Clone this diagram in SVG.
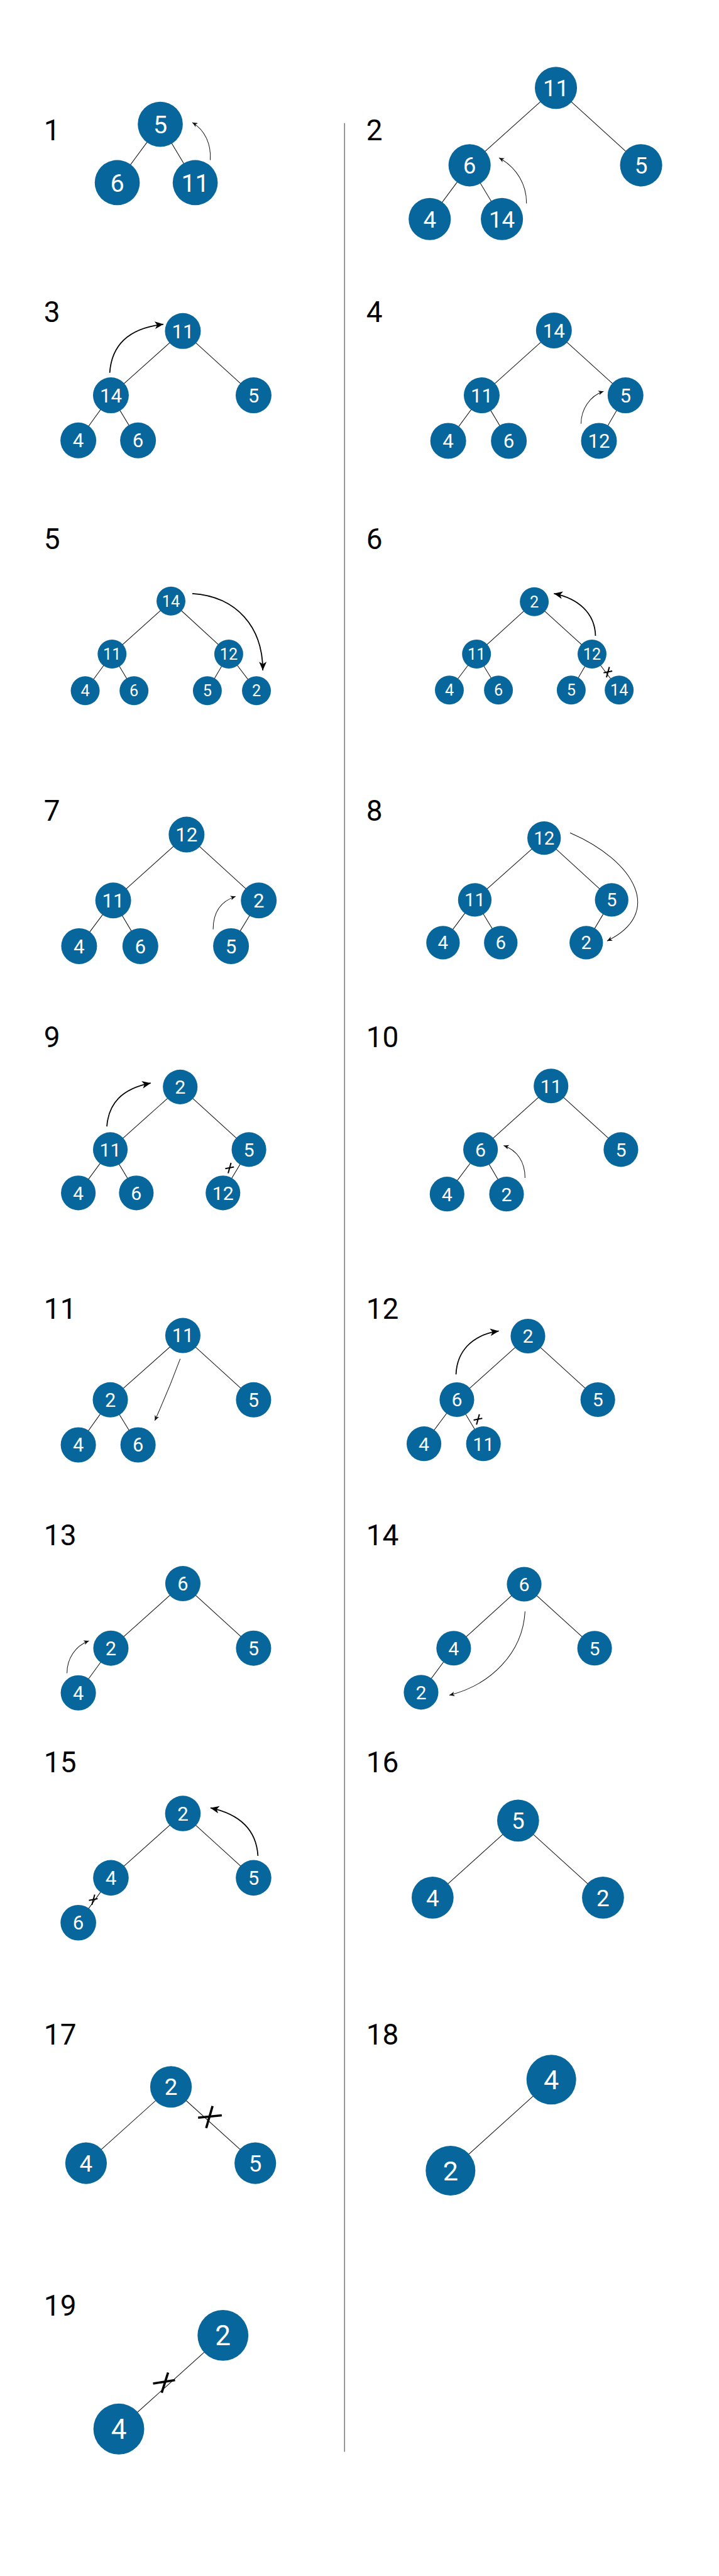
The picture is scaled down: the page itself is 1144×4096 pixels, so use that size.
<svg xmlns="http://www.w3.org/2000/svg" width="1144" height="4096" viewBox="0 0 1144 4096">
<style>
.n{fill:#07669b}
.t{fill:#fff;font-family:Roboto,"Liberation Sans",sans-serif;text-anchor:middle}
.e{stroke:#1a1a1a;stroke-width:1.2}
.lbl{fill:#000;font-family:Roboto,"Liberation Sans",sans-serif;font-size:50px}
.at{fill:none;stroke:#111;stroke-width:1.1;marker-end:url(#ah)}
.ab{fill:none;stroke:#000;stroke-width:1.9;marker-end:url(#ahb)}
.x{stroke:#000;stroke-width:2.2;stroke-linecap:butt}
.xb{stroke:#000;stroke-width:4;stroke-linecap:butt}
</style>
<defs>
<marker id="ah" markerUnits="userSpaceOnUse" markerWidth="10" markerHeight="8" refX="9" refY="4" orient="auto"><path d="M0,0 L9,4 L0,8 L2.5,4 z" fill="#111"/></marker>
<marker id="ahb" markerUnits="userSpaceOnUse" markerWidth="16" markerHeight="14" refX="15" refY="6.5" orient="auto"><path d="M0,0 L15,6.5 L0,13 L4,6.5 z" fill="#000"/></marker>
</defs>
<rect width="1144" height="4096" fill="#fff"/>
<g transform="scale(0.919)">
<line x1="596.5" y1="213" x2="596.5" y2="4242" stroke="#555" stroke-width="1.3"/>
<g id="labels">
<text class="lbl" x="76" y="243">1</text><text class="lbl" x="634" y="243">2</text>
<text class="lbl" x="76" y="557">3</text><text class="lbl" x="634" y="557">4</text>
<text class="lbl" x="76" y="950">5</text><text class="lbl" x="634" y="950">6</text>
<text class="lbl" x="76" y="1420">7</text><text class="lbl" x="634" y="1420">8</text>
<text class="lbl" x="76" y="1812">9</text><text class="lbl" x="634" y="1812">10</text>
<text class="lbl" x="76" y="2282">11</text><text class="lbl" x="634" y="2282">12</text>
<text class="lbl" x="76" y="2674">13</text><text class="lbl" x="634" y="2674">14</text>
<text class="lbl" x="76" y="3066">15</text><text class="lbl" x="634" y="3066">16</text>
<text class="lbl" x="76" y="3537">17</text><text class="lbl" x="634" y="3537">18</text>
<text class="lbl" x="76" y="4007">19</text>
</g>
<g id="connectors">
<!-- P1 -->
<line class="e" x1="277.5" y1="215" x2="203" y2="316"/><line class="e" x1="277.5" y1="215" x2="338" y2="316"/>
<path class="at" d="M364,277 C366,250 355,225 333,212"/>
<!-- P2 -->
<line class="e" x1="962.5" y1="152" x2="813" y2="286"/><line class="e" x1="962.5" y1="152" x2="1110" y2="286"/>
<line class="e" x1="813" y1="286" x2="744" y2="379"/><line class="e" x1="813" y1="286" x2="869" y2="379"/>
<path class="at" d="M911.5,352 C912,320 895,290 864,273"/>
<!-- P3 -->
<line class="e" x1="316.6" y1="572.7" x2="192" y2="684"/><line class="e" x1="316.6" y1="572.7" x2="439" y2="684"/>
<line class="e" x1="192" y1="684" x2="135.6" y2="762"/><line class="e" x1="192" y1="684" x2="239" y2="762"/>
<path class="ab" d="M190,645 C193,600 220,568 283,561"/>
<!-- P4 -->
<line class="e" x1="959" y1="571.7" x2="834" y2="684"/><line class="e" x1="959" y1="571.7" x2="1083" y2="684"/>
<line class="e" x1="834" y1="684" x2="776" y2="762.7"/><line class="e" x1="834" y1="684" x2="881" y2="762.7"/>
<line class="e" x1="1083" y1="684" x2="1037" y2="762.7"/>
<path class="at" d="M1006,733 C1006,710 1020,685 1045,677"/>
<!-- P5 -->
<line class="e" x1="296" y1="1040" x2="194" y2="1131.7"/><line class="e" x1="296" y1="1040" x2="396" y2="1131.7"/>
<line class="e" x1="194" y1="1131.7" x2="147.5" y2="1195"/><line class="e" x1="194" y1="1131.7" x2="232" y2="1195"/>
<line class="e" x1="396" y1="1131.7" x2="359" y2="1195"/><line class="e" x1="396" y1="1131.7" x2="444" y2="1195"/>
<path class="ab" d="M333,1027 C410,1032 455,1085 455,1160"/>
<!-- P6 -->
<line class="e" x1="925" y1="1041" x2="825" y2="1131.7"/><line class="e" x1="925" y1="1041" x2="1025" y2="1131.7"/>
<line class="e" x1="825" y1="1131.7" x2="778" y2="1194"/><line class="e" x1="825" y1="1131.7" x2="863" y2="1194"/>
<line class="e" x1="1025" y1="1131.7" x2="989" y2="1194"/><line class="e" x1="1025" y1="1131.7" x2="1072" y2="1194"/>
<path class="ab" d="M1031,1100 C1030,1060 1000,1035 959,1027"/>
<line class="x" x1="1055" y1="1154" x2="1050" y2="1172"/><line class="x" x1="1045" y1="1164" x2="1060" y2="1161"/>
<!-- P7 -->
<line class="e" x1="323" y1="1444" x2="196" y2="1558"/><line class="e" x1="323" y1="1444" x2="448" y2="1558"/>
<line class="e" x1="196" y1="1558" x2="137" y2="1637"/><line class="e" x1="196" y1="1558" x2="243" y2="1637"/>
<line class="e" x1="448" y1="1558" x2="400" y2="1637"/>
<path class="at" d="M369,1608 C369,1580 380,1560 408,1551"/>
<!-- P8 -->
<line class="e" x1="942" y1="1450" x2="822" y2="1557"/><line class="e" x1="942" y1="1450" x2="1059" y2="1557"/>
<line class="e" x1="822" y1="1557" x2="767" y2="1631"/><line class="e" x1="822" y1="1557" x2="867" y2="1631"/>
<line class="e" x1="1059" y1="1557" x2="1015" y2="1631"/>
<path class="at" d="M987,1441 C1100,1490 1150,1580 1051,1628"/>
<!-- P9 -->
<line class="e" x1="312" y1="1880.7" x2="191" y2="1989"/><line class="e" x1="312" y1="1880.7" x2="431" y2="1989"/>
<line class="e" x1="191" y1="1989" x2="135.6" y2="2064"/><line class="e" x1="191" y1="1989" x2="236" y2="2064"/>
<line class="e" x1="431" y1="1989" x2="386" y2="2064"/>
<path class="ab" d="M185,1949 C188,1910 210,1884 261,1874"/>
<line class="x" x1="400" y1="2012" x2="395" y2="2030"/><line class="x" x1="390" y1="2022" x2="405" y2="2019"/>
<!-- P10 -->
<line class="e" x1="954" y1="1879" x2="832" y2="1989"/><line class="e" x1="954" y1="1879" x2="1075" y2="1989"/>
<line class="e" x1="832" y1="1989" x2="774" y2="2066"/><line class="e" x1="832" y1="1989" x2="877" y2="2066"/>
<path class="at" d="M909,2038 C909,2010 895,1990 872,1982"/>
<!-- P11 -->
<line class="e" x1="316.6" y1="2310.7" x2="191" y2="2422"/><line class="e" x1="316.6" y1="2310.7" x2="439" y2="2422"/>
<line class="e" x1="191" y1="2422" x2="135.6" y2="2500"/><line class="e" x1="191" y1="2422" x2="239" y2="2500"/>
<path class="at" d="M312,2351 Q292,2405 268,2458"/>
<!-- P12 -->
<line class="e" x1="914" y1="2311.7" x2="791" y2="2421.7"/><line class="e" x1="914" y1="2311.7" x2="1035" y2="2421.7"/>
<line class="e" x1="791" y1="2421.7" x2="734" y2="2498"/><line class="e" x1="791" y1="2421.7" x2="837" y2="2498"/>
<path class="ab" d="M789.5,2378 C791,2340 815,2310 863.6,2303"/>
<line class="x" x1="830" y1="2447" x2="825" y2="2465"/><line class="x" x1="820" y1="2457" x2="835" y2="2454"/>
<!-- P13 -->
<line class="e" x1="316.6" y1="2740" x2="192" y2="2851.7"/><line class="e" x1="316.6" y1="2740" x2="439" y2="2851.7"/>
<line class="e" x1="192" y1="2851.7" x2="135.6" y2="2929"/>
<path class="at" d="M116,2895 C116,2870 130,2848 154,2839"/>
<!-- P14 -->
<line class="e" x1="907.5" y1="2741" x2="785.5" y2="2851.7"/><line class="e" x1="907.5" y1="2741" x2="1029.5" y2="2851.7"/>
<line class="e" x1="785.5" y1="2851.7" x2="729" y2="2928"/>
<path class="at" d="M909,2788 C905,2860 850,2915 778,2933"/>
<!-- P15 -->
<line class="e" x1="316.6" y1="3137.7" x2="192" y2="3249"/><line class="e" x1="316.6" y1="3137.7" x2="439" y2="3249"/>
<line class="e" x1="192" y1="3249" x2="135.6" y2="3326.7"/>
<path class="ab" d="M446.6,3211 C444,3170 420,3140 364.4,3128"/>
<line class="x" x1="164" y1="3278" x2="159" y2="3296"/><line class="x" x1="154" y1="3288" x2="169" y2="3285"/>
<!-- P16 -->
<line class="e" x1="897" y1="3150" x2="749" y2="3283.3"/><line class="e" x1="897" y1="3150" x2="1044" y2="3283.3"/>
<!-- P17 -->
<line class="e" x1="296" y1="3610.7" x2="149" y2="3742.7"/><line class="e" x1="296" y1="3610.7" x2="442" y2="3742.7"/>
<line class="xb" x1="368" y1="3644" x2="357" y2="3682"/><line class="xb" x1="343" y1="3664" x2="384" y2="3660"/>
<!-- P18 -->
<line class="e" x1="954.5" y1="3598.3" x2="780" y2="3755.7"/>
<!-- P19 -->
<line class="e" x1="386" y1="4040.7" x2="205.7" y2="4202.7"/>
<line class="xb" x1="291" y1="4105" x2="280" y2="4140"/><line class="xb" x1="265" y1="4124" x2="303" y2="4118"/>
</g>
<g id="nodes">
<g id="p1-5"><circle class="n" cx="277.5" cy="215" r="39"/><text class="t" x="277.5" y="230.5" font-size="43">5</text></g>
<g id="p1-6"><circle class="n" cx="203" cy="316" r="39"/><text class="t" x="203" y="331.5" font-size="43">6</text></g>
<g id="p1-11"><circle class="n" cx="338" cy="316" r="39"/><text class="t" x="338" y="331.5" font-size="43">11</text></g>
<g id="p2-11"><circle class="n" cx="962.5" cy="152" r="36.5"/><text class="t" x="962.5" y="166.4" font-size="40">11</text></g>
<g id="p2-6"><circle class="n" cx="813" cy="286" r="36.5"/><text class="t" x="813" y="300.4" font-size="40">6</text></g>
<g id="p2-5"><circle class="n" cx="1110" cy="286" r="36.5"/><text class="t" x="1110" y="300.4" font-size="40">5</text></g>
<g id="p2-4"><circle class="n" cx="744" cy="379" r="36.5"/><text class="t" x="744" y="393.4" font-size="40">4</text></g>
<g id="p2-14"><circle class="n" cx="869" cy="379" r="36.5"/><text class="t" x="869" y="393.4" font-size="40">14</text></g>
<g id="p3-11"><circle class="n" cx="316.6" cy="572.7" r="31"/><text class="t" x="316.6" y="584.9" font-size="34">11</text></g>
<g id="p3-14"><circle class="n" cx="192" cy="684" r="31"/><text class="t" x="192" y="696.2" font-size="34">14</text></g>
<g id="p3-5"><circle class="n" cx="439" cy="684" r="31"/><text class="t" x="439" y="696.2" font-size="34">5</text></g>
<g id="p3-4"><circle class="n" cx="135.6" cy="762" r="31"/><text class="t" x="135.6" y="774.2" font-size="34">4</text></g>
<g id="p3-6"><circle class="n" cx="239" cy="762" r="31"/><text class="t" x="239" y="774.2" font-size="34">6</text></g>
<g id="p4-14"><circle class="n" cx="959" cy="571.7" r="31"/><text class="t" x="959" y="583.9" font-size="34">14</text></g>
<g id="p4-11"><circle class="n" cx="834" cy="684" r="31"/><text class="t" x="834" y="696.2" font-size="34">11</text></g>
<g id="p4-5"><circle class="n" cx="1083" cy="684" r="31"/><text class="t" x="1083" y="696.2" font-size="34">5</text></g>
<g id="p4-4"><circle class="n" cx="776" cy="762.7" r="31"/><text class="t" x="776" y="774.9" font-size="34">4</text></g>
<g id="p4-6"><circle class="n" cx="881" cy="762.7" r="31"/><text class="t" x="881" y="774.9" font-size="34">6</text></g>
<g id="p4-12"><circle class="n" cx="1037" cy="762.7" r="31"/><text class="t" x="1037" y="774.9" font-size="34">12</text></g>
<g id="p5-14"><circle class="n" cx="296" cy="1040" r="25"/><text class="t" x="296" y="1049.9" font-size="27.5">14</text></g>
<g id="p5-11"><circle class="n" cx="194" cy="1131.7" r="25"/><text class="t" x="194" y="1141.6" font-size="27.5">11</text></g>
<g id="p5-12"><circle class="n" cx="396" cy="1131.7" r="25"/><text class="t" x="396" y="1141.6" font-size="27.5">12</text></g>
<g id="p5-4"><circle class="n" cx="147.5" cy="1195" r="25"/><text class="t" x="147.5" y="1204.9" font-size="27.5">4</text></g>
<g id="p5-6"><circle class="n" cx="232" cy="1195" r="25"/><text class="t" x="232" y="1204.9" font-size="27.5">6</text></g>
<g id="p5-5"><circle class="n" cx="359" cy="1195" r="25"/><text class="t" x="359" y="1204.9" font-size="27.5">5</text></g>
<g id="p5-2"><circle class="n" cx="444" cy="1195" r="25"/><text class="t" x="444" y="1204.9" font-size="27.5">2</text></g>
<g id="p6-2"><circle class="n" cx="925" cy="1041" r="25"/><text class="t" x="925" y="1050.9" font-size="27.5">2</text></g>
<g id="p6-11"><circle class="n" cx="825" cy="1131.7" r="25"/><text class="t" x="825" y="1141.6" font-size="27.5">11</text></g>
<g id="p6-12"><circle class="n" cx="1025" cy="1131.7" r="25"/><text class="t" x="1025" y="1141.6" font-size="27.5">12</text></g>
<g id="p6-4"><circle class="n" cx="778" cy="1194" r="25"/><text class="t" x="778" y="1203.9" font-size="27.5">4</text></g>
<g id="p6-6"><circle class="n" cx="863" cy="1194" r="25"/><text class="t" x="863" y="1203.9" font-size="27.5">6</text></g>
<g id="p6-5"><circle class="n" cx="989" cy="1194" r="25"/><text class="t" x="989" y="1203.9" font-size="27.5">5</text></g>
<g id="p6-14"><circle class="n" cx="1072" cy="1194" r="25"/><text class="t" x="1072" y="1203.9" font-size="27.5">14</text></g>
<g id="p7-12"><circle class="n" cx="323" cy="1444" r="31"/><text class="t" x="323" y="1456.2" font-size="34">12</text></g>
<g id="p7-11"><circle class="n" cx="196" cy="1558" r="31"/><text class="t" x="196" y="1570.2" font-size="34">11</text></g>
<g id="p7-2"><circle class="n" cx="448" cy="1558" r="31"/><text class="t" x="448" y="1570.2" font-size="34">2</text></g>
<g id="p7-4"><circle class="n" cx="137" cy="1637" r="31"/><text class="t" x="137" y="1649.2" font-size="34">4</text></g>
<g id="p7-6"><circle class="n" cx="243" cy="1637" r="31"/><text class="t" x="243" y="1649.2" font-size="34">6</text></g>
<g id="p7-5"><circle class="n" cx="400" cy="1637" r="31"/><text class="t" x="400" y="1649.2" font-size="34">5</text></g>
<g id="p8-12"><circle class="n" cx="942" cy="1450" r="29"/><text class="t" x="942" y="1461.5" font-size="32">12</text></g>
<g id="p8-11"><circle class="n" cx="822" cy="1557" r="29"/><text class="t" x="822" y="1568.5" font-size="32">11</text></g>
<g id="p8-5"><circle class="n" cx="1059" cy="1557" r="29"/><text class="t" x="1059" y="1568.5" font-size="32">5</text></g>
<g id="p8-4"><circle class="n" cx="767" cy="1631" r="29"/><text class="t" x="767" y="1642.5" font-size="32">4</text></g>
<g id="p8-6"><circle class="n" cx="867" cy="1631" r="29"/><text class="t" x="867" y="1642.5" font-size="32">6</text></g>
<g id="p8-2"><circle class="n" cx="1015" cy="1631" r="29"/><text class="t" x="1015" y="1642.5" font-size="32">2</text></g>
<g id="p9-2"><circle class="n" cx="312" cy="1880.7" r="30"/><text class="t" x="312" y="1892.6" font-size="33">2</text></g>
<g id="p9-11"><circle class="n" cx="191" cy="1989" r="30"/><text class="t" x="191" y="2000.9" font-size="33">11</text></g>
<g id="p9-5"><circle class="n" cx="431" cy="1989" r="30"/><text class="t" x="431" y="2000.9" font-size="33">5</text></g>
<g id="p9-4"><circle class="n" cx="135.6" cy="2064" r="30"/><text class="t" x="135.6" y="2075.9" font-size="33">4</text></g>
<g id="p9-6"><circle class="n" cx="236" cy="2064" r="30"/><text class="t" x="236" y="2075.9" font-size="33">6</text></g>
<g id="p9-12"><circle class="n" cx="386" cy="2064" r="30"/><text class="t" x="386" y="2075.9" font-size="33">12</text></g>
<g id="p10-11"><circle class="n" cx="954" cy="1879" r="30"/><text class="t" x="954" y="1890.9" font-size="33">11</text></g>
<g id="p10-6"><circle class="n" cx="832" cy="1989" r="30"/><text class="t" x="832" y="2000.9" font-size="33">6</text></g>
<g id="p10-5"><circle class="n" cx="1075" cy="1989" r="30"/><text class="t" x="1075" y="2000.9" font-size="33">5</text></g>
<g id="p10-4"><circle class="n" cx="774" cy="2066" r="30"/><text class="t" x="774" y="2077.9" font-size="33">4</text></g>
<g id="p10-2"><circle class="n" cx="877" cy="2066" r="30"/><text class="t" x="877" y="2077.9" font-size="33">2</text></g>
<g id="p11-11"><circle class="n" cx="316.6" cy="2310.7" r="30.5"/><text class="t" x="316.6" y="2322.6" font-size="33.5">11</text></g>
<g id="p11-2"><circle class="n" cx="191" cy="2422" r="30.5"/><text class="t" x="191" y="2433.9" font-size="33.5">2</text></g>
<g id="p11-5"><circle class="n" cx="439" cy="2422" r="30.5"/><text class="t" x="439" y="2433.9" font-size="33.5">5</text></g>
<g id="p11-4"><circle class="n" cx="135.6" cy="2500" r="30.5"/><text class="t" x="135.6" y="2511.9" font-size="33.5">4</text></g>
<g id="p11-6"><circle class="n" cx="239" cy="2500" r="30.5"/><text class="t" x="239" y="2511.9" font-size="33.5">6</text></g>
<g id="p12-2"><circle class="n" cx="914" cy="2311.7" r="30"/><text class="t" x="914" y="2323.6" font-size="33">2</text></g>
<g id="p12-6"><circle class="n" cx="791" cy="2421.7" r="30"/><text class="t" x="791" y="2433.6" font-size="33">6</text></g>
<g id="p12-5"><circle class="n" cx="1035" cy="2421.7" r="30"/><text class="t" x="1035" y="2433.6" font-size="33">5</text></g>
<g id="p12-4"><circle class="n" cx="734" cy="2498" r="30"/><text class="t" x="734" y="2509.9" font-size="33">4</text></g>
<g id="p12-11"><circle class="n" cx="837" cy="2498" r="30"/><text class="t" x="837" y="2509.9" font-size="33">11</text></g>
<g id="p13-6"><circle class="n" cx="316.6" cy="2740" r="30.5"/><text class="t" x="316.6" y="2751.9" font-size="33.5">6</text></g>
<g id="p13-2"><circle class="n" cx="192" cy="2851.7" r="30.5"/><text class="t" x="192" y="2863.6" font-size="33.5">2</text></g>
<g id="p13-5"><circle class="n" cx="439" cy="2851.7" r="30.5"/><text class="t" x="439" y="2863.6" font-size="33.5">5</text></g>
<g id="p13-4"><circle class="n" cx="135.6" cy="2929" r="30.5"/><text class="t" x="135.6" y="2940.9" font-size="33.5">4</text></g>
<g id="p14-6"><circle class="n" cx="907.5" cy="2741" r="30"/><text class="t" x="907.5" y="2752.9" font-size="33">6</text></g>
<g id="p14-4"><circle class="n" cx="785.5" cy="2851.7" r="30"/><text class="t" x="785.5" y="2863.6" font-size="33">4</text></g>
<g id="p14-5"><circle class="n" cx="1029.5" cy="2851.7" r="30"/><text class="t" x="1029.5" y="2863.6" font-size="33">5</text></g>
<g id="p14-2"><circle class="n" cx="729" cy="2928" r="30"/><text class="t" x="729" y="2939.9" font-size="33">2</text></g>
<g id="p15-2"><circle class="n" cx="316.6" cy="3137.7" r="30.8"/><text class="t" x="316.6" y="3149.7" font-size="34">2</text></g>
<g id="p15-4"><circle class="n" cx="192" cy="3249" r="30.8"/><text class="t" x="192" y="3261" font-size="34">4</text></g>
<g id="p15-5"><circle class="n" cx="439" cy="3249" r="30.8"/><text class="t" x="439" y="3261" font-size="34">5</text></g>
<g id="p15-6"><circle class="n" cx="135.6" cy="3326.7" r="30.8"/><text class="t" x="135.6" y="3338.7" font-size="34">6</text></g>
<g id="p16-5"><circle class="n" cx="897" cy="3150" r="36.3"/><text class="t" x="897" y="3164.4" font-size="40">5</text></g>
<g id="p16-4"><circle class="n" cx="749" cy="3283.3" r="36.3"/><text class="t" x="749" y="3297.7" font-size="40">4</text></g>
<g id="p16-2"><circle class="n" cx="1044" cy="3283.3" r="36.3"/><text class="t" x="1044" y="3297.7" font-size="40">2</text></g>
<g id="p17-2"><circle class="n" cx="296" cy="3610.7" r="36"/><text class="t" x="296" y="3625" font-size="40">2</text></g>
<g id="p17-4"><circle class="n" cx="149" cy="3742.7" r="36"/><text class="t" x="149" y="3757" font-size="40">4</text></g>
<g id="p17-5"><circle class="n" cx="442" cy="3742.7" r="36"/><text class="t" x="442" y="3757" font-size="40">5</text></g>
<g id="p18-4"><circle class="n" cx="954.5" cy="3598.3" r="43"/><text class="t" x="954.5" y="3615.2" font-size="47">4</text></g>
<g id="p18-2"><circle class="n" cx="780" cy="3755.7" r="43"/><text class="t" x="780" y="3772.6" font-size="47">2</text></g>
<g id="p19-2"><circle class="n" cx="386" cy="4040.7" r="44"/><text class="t" x="386" y="4058" font-size="48">2</text></g>
<g id="p19-4"><circle class="n" cx="205.7" cy="4202.7" r="44"/><text class="t" x="205.7" y="4220" font-size="48">4</text></g>
</g>
</g>
</svg>
